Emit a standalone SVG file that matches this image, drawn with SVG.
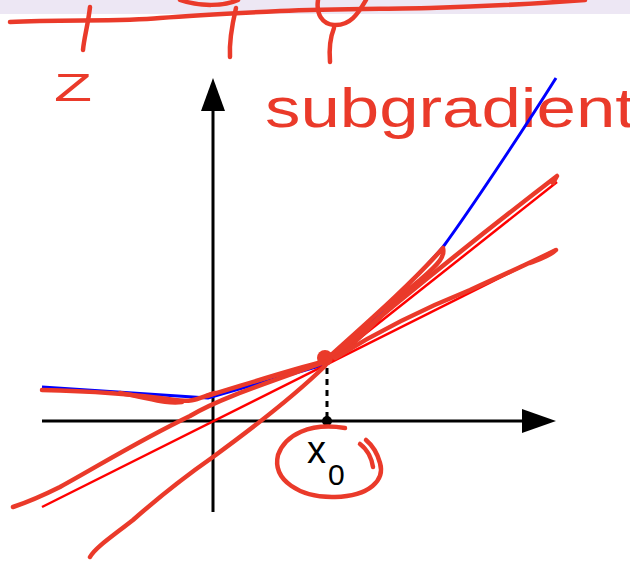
<svg xmlns="http://www.w3.org/2000/svg" width="630" height="561" viewBox="0 0 630 561">
<style>
.ink{fill:none;stroke:#ea3a2a;stroke-width:4.5;stroke-linecap:round;stroke-linejoin:round}
.ax{fill:none;stroke:#000;stroke-width:3}
.thin{fill:none;stroke:#ff0000;stroke-width:2.5}
.hand{font-family:"Liberation Sans","DejaVu Sans",sans-serif;fill:#ea3a2a}
.lbl{font-family:"Liberation Sans","DejaVu Sans",sans-serif;fill:#000}
</style>
<rect x="0" y="0" width="630" height="14" fill="#ede7f4"/>
<g id="top-notes">
<path class="ink" d="M10,22 C60,19 120,22 160,18 C200,15 240,13 280,11 C330,9 380,9 430,8 C500,6 545,3 585,0"/>
<path class="ink" d="M90,7 C88,25 84,38 83,50"/>
<path class="ink" d="M236,8 C232,25 229,40 230,57"/>
<path class="ink" d="M180,0 C200,7 225,6 238,0"/>
<path class="ink" d="M318,0 C316,14 322,24 334,25 C350,26 358,14 366,0"/>
<path class="ink" d="M334,28 C330,38 329,50 330,62"/>
<text class="hand" x="54" y="101" font-size="38" textLength="38" lengthAdjust="spacingAndGlyphs">Z</text>
<text class="hand" x="265" y="127" font-size="56" textLength="370" lengthAdjust="spacingAndGlyphs">subgradient</text>
</g>
<g id="axes">
<path class="ax" d="M42,421 L526,421"/>
<path d="M556,421 L522,409 L522,433 Z" fill="#000"/>
<path class="ax" d="M213,512 L213,106"/>
<path d="M213,78 L201,111 L225,111 Z" fill="#000"/>
</g>
<g id="plot">
<path fill="none" stroke="#0000ff" stroke-width="3" d="M42,387 L208,398 L327,364 C350,341 420,275 443,247 C470,210 520,135 556,78"/>
<path class="thin" d="M42,507 L557,249"/>
<path class="thin" d="M327,364 L557,182"/>
<path fill="none" stroke="#000" stroke-width="3" stroke-dasharray="6,5" d="M327,368 L327,421"/>
<circle cx="327" cy="421" r="5" fill="#000"/>
<text class="lbl" x="307" y="463" font-size="38">x</text>
<text class="lbl" x="328" y="485" font-size="30">0</text>
</g>
<g id="plot-notes">
<path class="ink" d="M42,390 C90,391 140,395 175,400 C195,403 200,397 215,393"/>
<path class="ink" d="M120,393 C150,398 165,404 182,402"/>
<path class="ink" stroke-width="9" d="M207,396 C250,383 290,370 322,362"/>
<circle cx="325" cy="358" r="8" fill="#ea3a2a"/>
<path class="ink" stroke-width="6" d="M330,356 C370,320 410,285 443,248 C445,256 440,263 420,280 C395,300 370,330 340,355"/>
<path class="ink" d="M333,356 C400,300 480,235 557,176 L553,183"/>
<path class="ink" d="M335,358 C380,330 420,310 470,290 C510,272 540,258 556,250 C550,256 540,259 530,263"/>
<path class="ink" d="M325,362 C270,382 220,398 190,416 C140,440 100,465 60,487 C40,497 25,503 13,507"/>
<path class="ink" d="M325,366 C290,400 250,430 213,457 C180,480 150,505 133,520 C110,538 95,548 90,557"/>
<path class="ink" d="M345,428 C310,422 285,435 278,455 C272,480 300,498 335,497 C370,496 385,480 380,463 C377,452 372,445 366,440"/>
<path class="ink" d="M360,444 C368,450 372,460 373,467"/>
</g>
</svg>
